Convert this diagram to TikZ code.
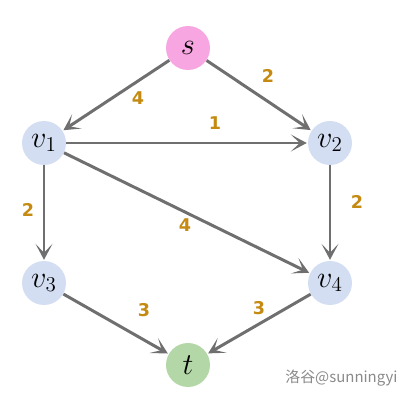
\documentclass[tikz,border=0pt]{standalone}
\usepackage{fontspec}
\usepackage{tikz}
\usetikzlibrary{arrows.meta}
\newfontfamily\labelfont{DejaVu Sans}
\newfontfamily\cjkfont{Noto Sans CJK SC}
\definecolor{srcPink}{HTML}{F7A6E1}
\definecolor{midBlue}{HTML}{D3DEF3}
\definecolor{sinkGreen}{HTML}{B3D7A6}
\definecolor{edgeGrey}{HTML}{6F6F6F}
\definecolor{wtAmber}{HTML}{C48A12}
\definecolor{markGrey}{HTML}{8A8A8A}
\tikzset{
  vert/.style  = {circle, minimum size=8.8mm, inner sep=0pt, font=\fontsize{18}{19}\selectfont},
  src/.style   = {vert, fill=srcPink},
  mid/.style   = {vert, fill=midBlue},
  sink/.style  = {vert, fill=sinkGreen},
  arc/.style   = {-{Stealth[length=3.2mm, width=3.4mm, inset=1.8mm]}, draw=edgeGrey, line width=1.7pt, shorten >=0.5pt},
  wt/.style    = {font=\labelfont\bfseries\fontsize{10}{12}\selectfont, text=wtAmber, inner sep=1pt}
}
\begin{document}
\begin{tikzpicture}[x=0.02cm, y=-0.02cm]
  \useasboundingbox (0,0) rectangle (400,400);

  % --- vertices
  \node[src]  (s)  at (188,48)  {$s$};
  \node[mid]  (v1) at (44,143)  {$v_1$};
  \node[mid]  (v2) at (330,143) {$v_2$};
  \node[mid]  (v3) at (44,283)  {$v_3$};
  \node[mid]  (v4) at (330,283) {$v_4$};
  \node[sink] (t)  at (188,365) {$t$};

  % --- arcs
  \draw[arc] (s) -- (v1);
  \draw[arc] (s) -- (v2);
  \draw[arc] (v1) -- (v2);
  \draw[arc] (v1) -- (v3);
  \draw[arc] (v1) -- (v4);
  \draw[arc] (v2) -- (v4);
  \draw[arc] (v3) -- (t);
  \draw[arc] (v4) -- (t);

  % --- weights
  \node[wt] (w1) at (138,98)  {4};
  \node[wt] (w2) at (268,76)  {2};
  \node[wt] (w3) at (215,123) {1};
  \node[wt] (w4) at (28,210)  {2};
  \node[wt] (w5) at (185,225) {4};
  \node[wt] (w6) at (357,202) {2};
  \node[wt] (w7) at (144,310) {3};
  \node[wt] (w8) at (259,308) {3};

  % --- watermark
  \node[font=\cjkfont\fontsize{8.5}{10}\selectfont, text=markGrey, anchor=west, inner sep=0pt] (mark) at (285,378) {洛谷@sunningyi};
\end{tikzpicture}
\end{document}
